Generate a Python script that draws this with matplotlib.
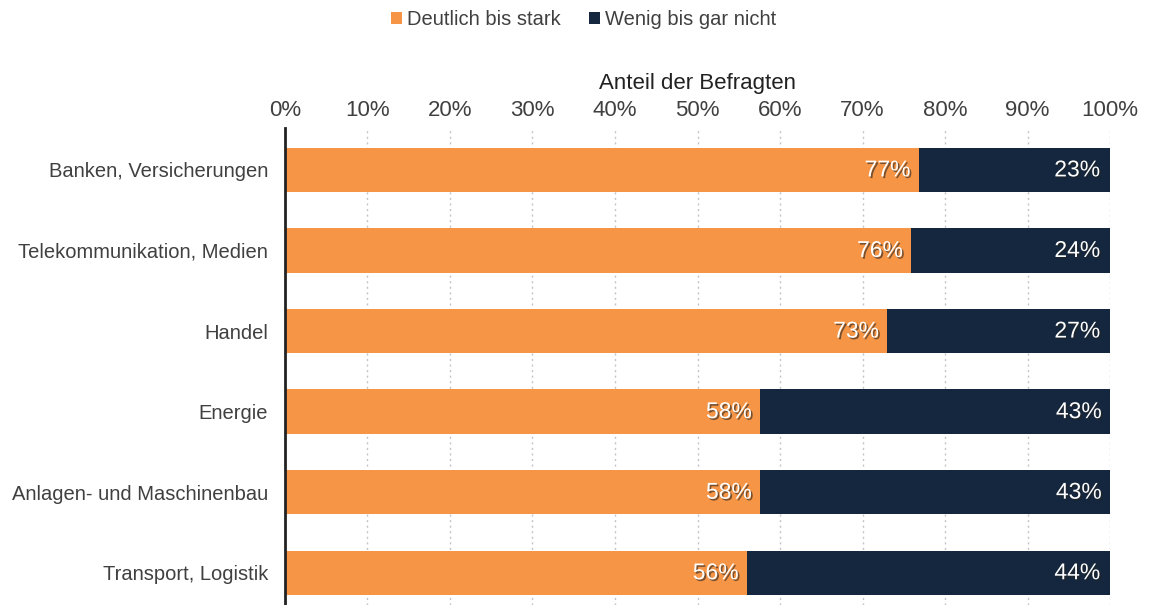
import matplotlib.pyplot as plt
import matplotlib.patheffects as pe
import numpy as np

plt.rcParams['font.family'] = ['Liberation Sans', 'DejaVu Sans']

categories = ['Banken, Versicherungen', 'Telekommunikation, Medien', 'Handel',
              'Energie', 'Anlagen- und Maschinenbau', 'Transport, Logistik']
deutlich = [76.8, 75.9, 73.0, 57.6, 57.6, 56.0]
wenig = [23.2, 24.1, 27.0, 42.6, 42.6, 44.0]
deutlich_labels = ['77%', '76%', '73%', '58%', '58%', '56%']
wenig_labels = ['23%', '24%', '27%', '43%', '43%', '44%']
ticks = np.arange(0, 101, 10)

orange = '#F59545'
navy = '#14273E'
text_color = '#404040'

fig = plt.figure(figsize=(11.51, 6.05), dpi=100)
ax = fig.add_axes([0.2476, 0.0, 0.7168, 0.7884])

y = np.arange(len(categories))
ax.barh(y, deutlich, height=0.55, color=orange, label='Deutlich bis stark', zorder=3)
ax.barh(y, wenig, left=deutlich, height=0.55, color=navy, label='Wenig bis gar nicht', zorder=3)

# white value labels with a soft drop shadow, right-aligned at each segment end
shadow = [pe.withSimplePatchShadow(offset=(1.2, -1.2), shadow_rgbFace='#222222', alpha=0.6)]
for i in range(len(categories)):
    ax.text(deutlich[i] - 1.0, y[i], deutlich_labels[i], ha='right', va='center',
            color='white', fontsize=16.5, path_effects=shadow, zorder=4)
    ax.text(deutlich[i] + wenig[i] - 1.2, y[i], wenig_labels[i], ha='right', va='center',
            color='white', fontsize=16.5, path_effects=shadow, zorder=4)

ax.set_xlim(0, 100)
ax.set_ylim(5.40, -0.52)
ax.set_xticks(ticks)
ax.set_xticklabels([f'{t}%' for t in ticks])
ax.xaxis.tick_top()
ax.xaxis.set_label_position('top')
ax.set_xlabel('Anteil der Befragten', fontsize=16, color='#222222', labelpad=8)
ax.tick_params(axis='x', length=0, labelsize=16, labelcolor=text_color, pad=5)
ax.set_yticks(y)
ax.set_yticklabels(categories)
ax.tick_params(axis='y', length=0, labelsize=14.5, labelcolor=text_color, pad=12)

ax.grid(axis='x', color='#C4C4C4', linestyle=(0, (1.5, 2.5)), linewidth=1, zorder=0)
for s in ['top', 'right', 'bottom']:
    ax.spines[s].set_visible(False)
ax.spines['left'].set_linewidth(2)
ax.spines['left'].set_color('#222222')
ax.spines['left'].set_zorder(5)

fig.legend(loc='center', bbox_to_anchor=(0.507, 0.968), ncol=2, frameon=False,
           fontsize=14.5, handlelength=0.55, handleheight=0.55, handletextpad=0.25,
           columnspacing=1.4, labelcolor=text_color)

fig.savefig('out.png', dpi=100)
